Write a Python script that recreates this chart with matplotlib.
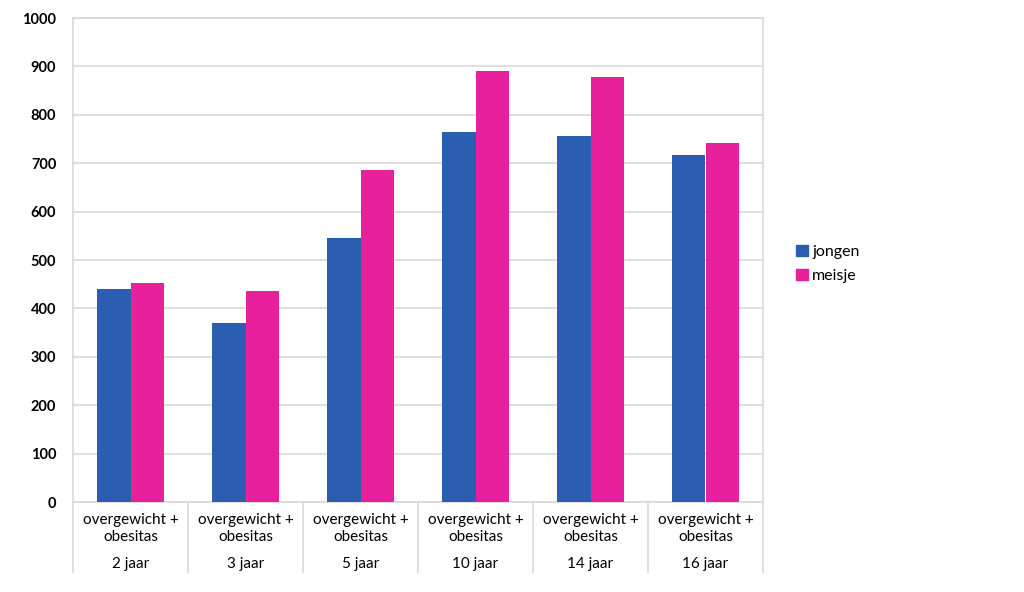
import matplotlib
matplotlib.use("Agg")
import matplotlib.pyplot as plt
import numpy as np
from matplotlib.lines import Line2D
from matplotlib.patches import Patch

plt.rcParams["font.family"] = ["Lato", "DejaVu Sans"]

# data
groups = ["2 jaar", "3 jaar", "5 jaar", "10 jaar", "14 jaar", "16 jaar"]
category = "overgewicht +\nobesitas"
jongen = [440, 370, 545, 765, 756, 716]
meisje = [452, 435, 686, 890, 879, 742]
series_names = ["jongen", "meisje"]
yticks = [0, 100, 200, 300, 400, 500, 600, 700, 800, 900, 1000]

BLUE = "#2b5db1"
PINK = "#e8209b"
GRID = "#d9d9d9"

fig = plt.figure(figsize=(10.24, 5.92), dpi=100)
ax = fig.add_axes([73 / 1024, 1 - 502 / 592, 690 / 1024, 484 / 592])

x = np.arange(len(groups))
w = 0.287
ax.bar(x - w / 2, jongen, width=w, color=BLUE, zorder=3)
ax.bar(x + w / 2, meisje, width=w, color=PINK, zorder=3)

ax.set_xlim(-0.5, len(groups) - 0.5)
ax.set_ylim(0, 1000)
ax.set_yticks(yticks)
ax.set_yticklabels([str(v) for v in yticks], fontsize=10.5, fontweight="bold")
ax.tick_params(axis="y", length=0, pad=12)
ax.set_xticks([])
ax.yaxis.grid(True, color=GRID, linewidth=1.2, zorder=0)
for side in ["left", "right", "top", "bottom"]:
    ax.spines[side].set_color(GRID)
    ax.spines[side].set_linewidth(1.2)

# two-level category axis
trans = ax.get_xaxis_transform()
for i, g in enumerate(groups):
    ax.text(i, -0.055, category, transform=trans, ha="center", va="center",
            fontsize=11, linespacing=1.3)
    ax.text(i, -0.128, g, transform=trans, ha="center", va="center", fontsize=11)
for b in np.arange(len(groups) + 1) - 0.5:
    ax.add_line(Line2D([b, b], [0, -0.145], transform=trans, color=GRID,
                       linewidth=1.2, clip_on=False))

handles = [Patch(color=BLUE), Patch(color=PINK)]
fig.legend(handles, series_names, loc="center left",
           bbox_to_anchor=(782 / 1024, 1 - 264 / 592), frameon=False,
           fontsize=11.5, handlelength=0.7, handleheight=0.7,
           handletextpad=0.3, labelspacing=0.6)

fig.savefig("out.png", dpi=100)
